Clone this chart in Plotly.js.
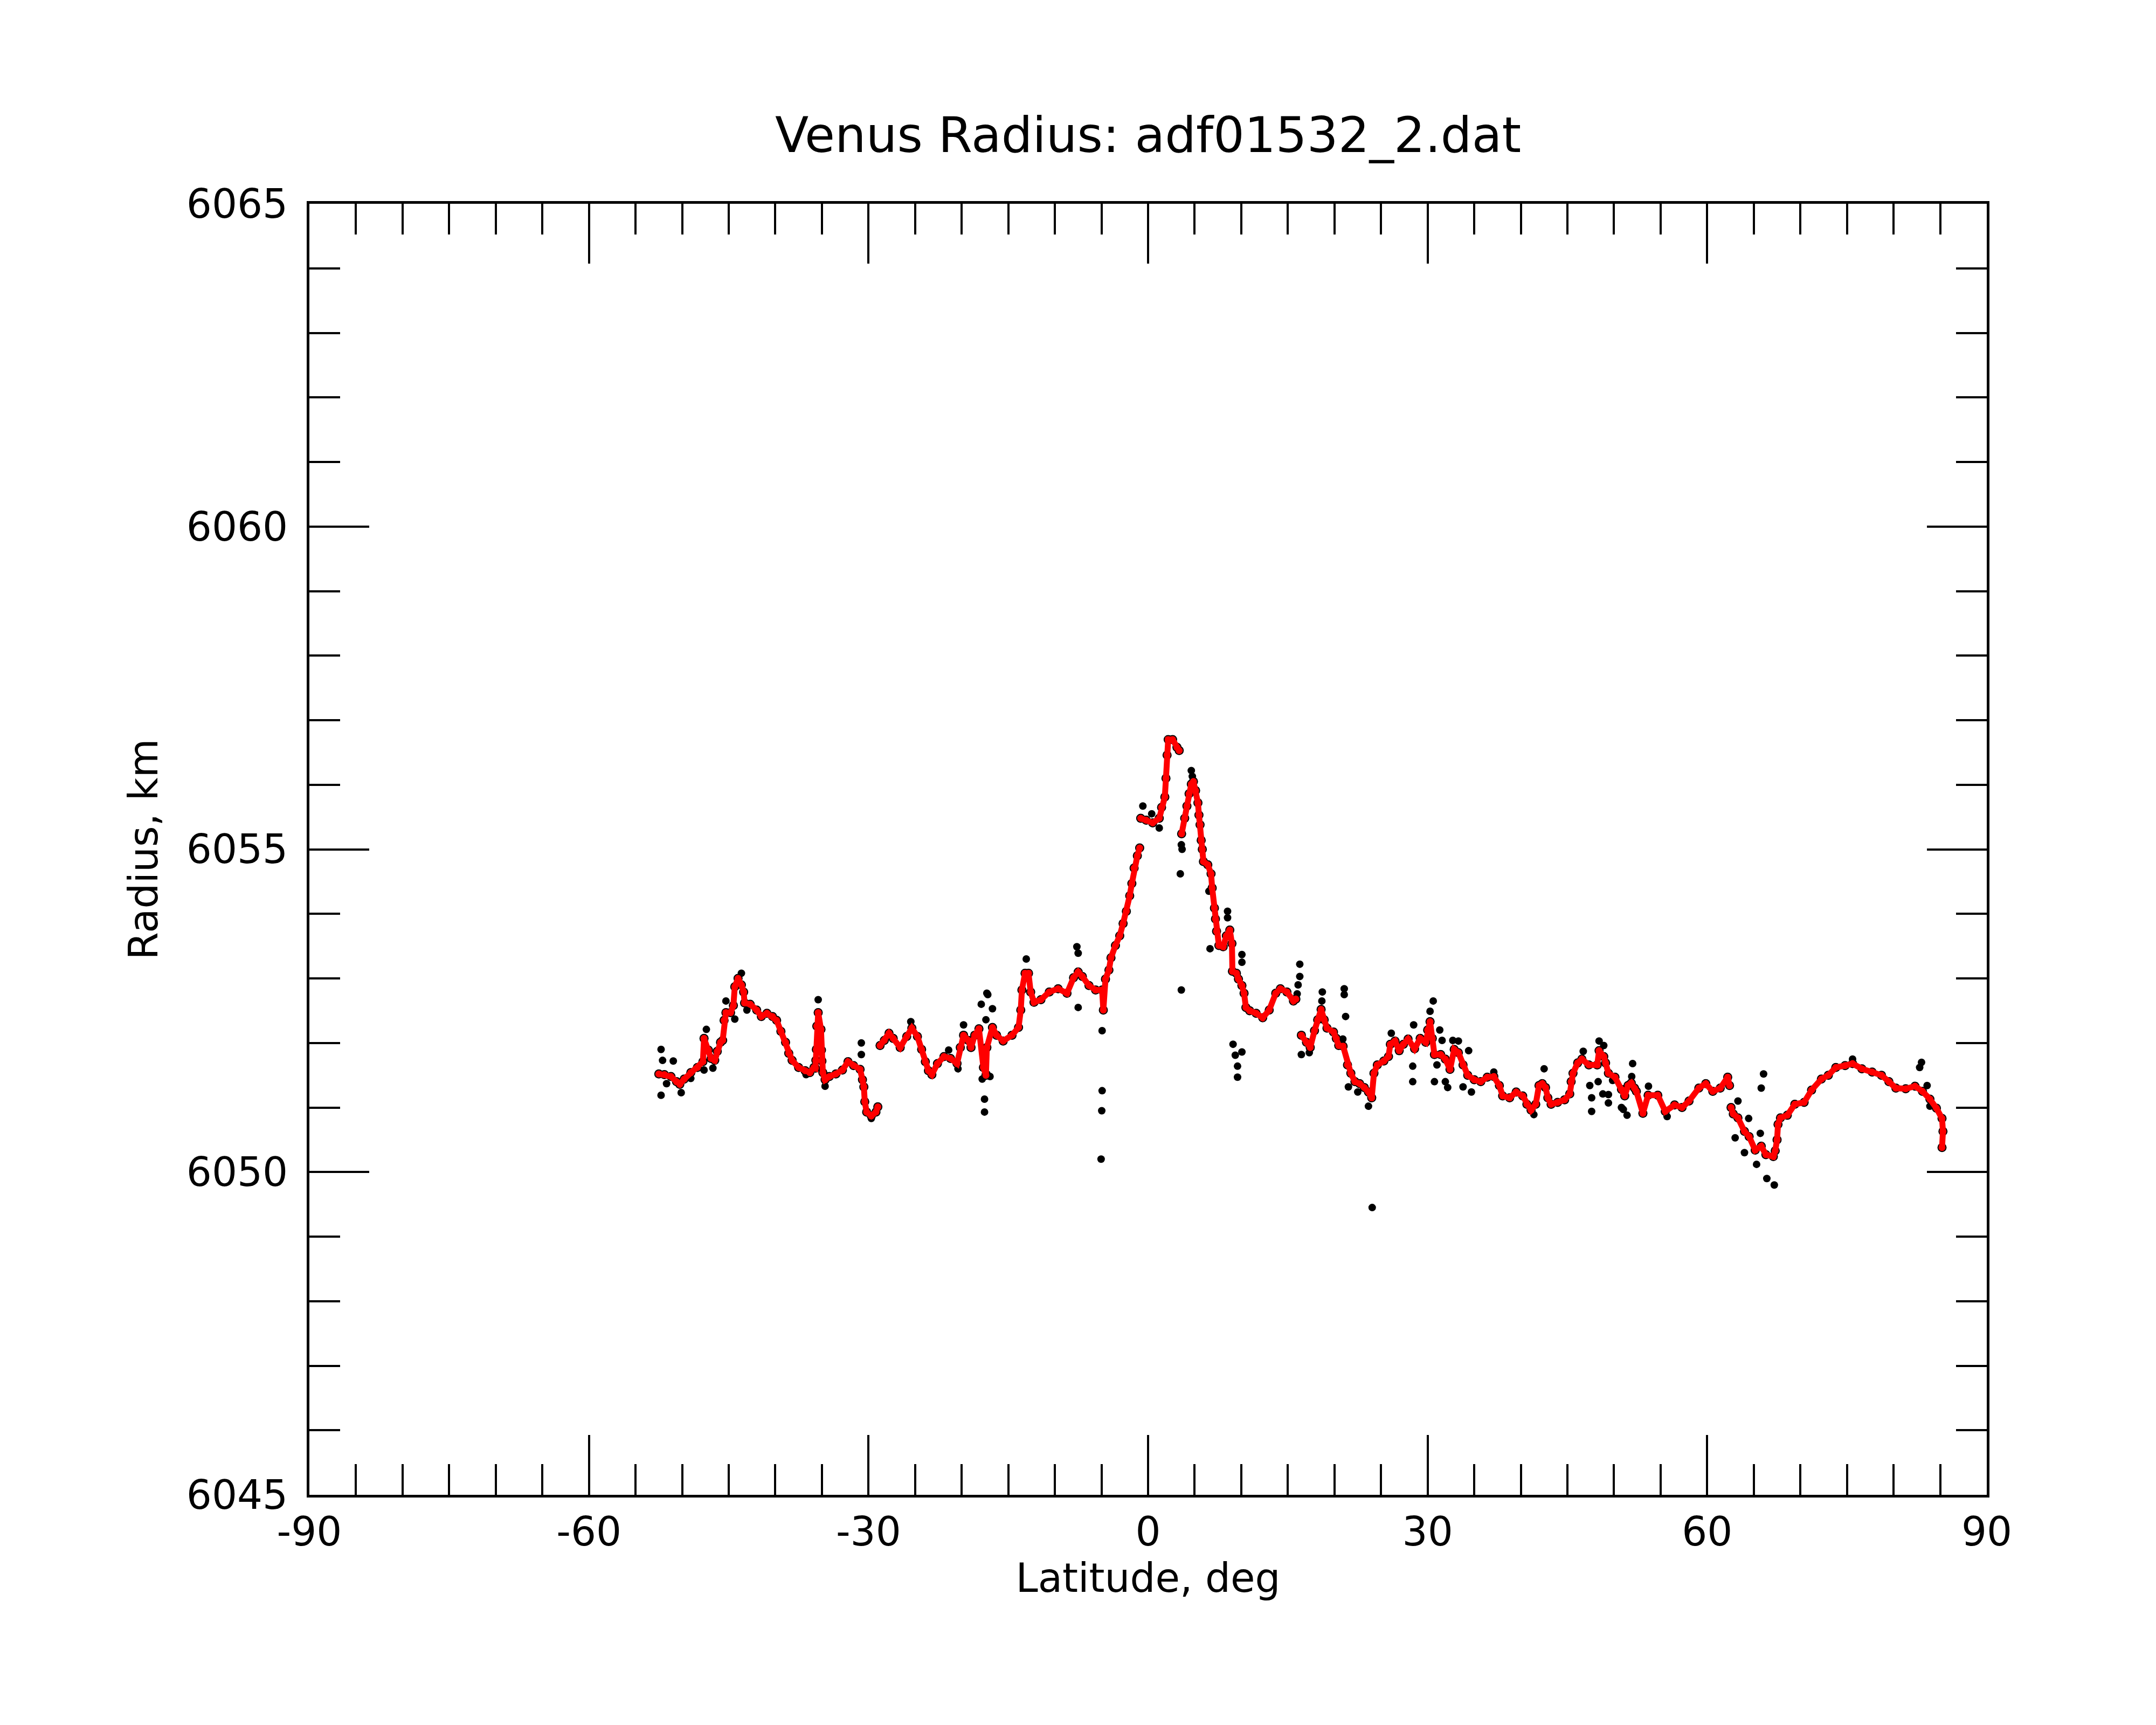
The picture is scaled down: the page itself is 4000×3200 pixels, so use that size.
<!DOCTYPE html>
<html>
<head>
<meta charset="utf-8">
<script src="https://cdn.plot.ly/plotly-3.0.1.min.js"></script>
<style>
  body { margin: 0; background: #fff; }
  #graphDiv { width: 4000px; height: 3200px; }
</style>
</head>
<body>
<div id="graphDiv"></div>
<script>
'use strict';

// smoothed radius (red), null = gap in the curve
const smoothLat = [
  -52.5, -51.9, -51.2, -50.6, -50.25, -49.78, -49.07, -48.36, -47.77, -47.65, -47.18, -46.9, -46.5, -46.23,
  -45.88, -45.65, -45.5, -45.3, -44.8, -44.5, -44.35, -44.0, -43.64, -43.4, -43.3, -42.7, -42.0, -41.5,
  -40.9, -40.3, -39.86, -39.4, -38.9, -38.56, -38.2, -37.5, -36.8, -36.3, -35.85, -35.7, -35.65, -35.6,
  -35.55, -35.4, -35.1, -35.05, -35.0, -34.9, -34.66, -34.2, -33.5, -32.8, -32.2, -31.6, -30.9, -30.65,
  -30.5, -30.4, -30.2, -29.7, -29.2, -29.0, null,
  -28.76, -28.3, -27.8, -27.35, -26.6, -25.9, -25.35, -24.75, -24.3, -23.9, -23.57, -23.2, -22.6, -21.9,
  -21.2, -20.5, -20.15, -19.8, -19.3, -19.0, -18.6, -18.15, -17.67, -17.4, -17.3, -16.7, -16.26, -15.55,
  -14.6, -13.9, -13.66, -13.54, -13.2, -12.83, -12.6, -12.24, -11.5, -10.6, -9.65, -8.7, -8.0, -7.5,
  -7.05, -6.34, -5.63, -4.93, -4.8, -4.57, -4.2, -3.98, -3.5, -3.04, -2.68, -2.33, -1.97, -1.74,
  -1.5, -1.15, -0.9, null,
  -0.79, -0.2, 0.5, 1.2, 1.45, 1.8, 1.92, 2.04, 2.16, 2.63, 3.1, 3.34, null,
  3.6, 3.93, 4.17, 4.4, 4.64, 4.87, 5.1, 5.35, 5.46, 5.58, 5.7, 5.82, 5.94, 6.41, 6.76, 6.88, 7.12,
  7.23, 7.35, 7.6, 8.06, 8.4, 8.77, 9.0, 9.05, 9.48, 9.7, 10.07, 10.3, 10.5, 10.9, 11.6, 12.3, 13.0,
  13.7, 14.2, 14.9, 15.6, 15.86, null,
  16.45, 17.0, 17.4, 17.86, 18.2, 18.57, 18.9, 19.2, 19.9, 20.2, 20.46, 20.93, 21.4, 21.76, 22.2,
  22.7, 23.2, 23.65, 24.0, 24.24, 24.6, 25.3, 25.8, 26.0, 26.5, 26.95, 27.4, 27.9, 28.6, 29.2, 29.8,
  30.0, 30.26, 30.5, 30.73, 31.4, 31.9, 32.4, 32.85, 33.3, 33.8, 34.3, 35.0, 35.7, 36.4, 37.1, 37.7,
  38.05, 38.8, 39.5, 40.2, 40.65, 41.1, 41.6, 41.95, 42.3, 42.65, 42.9, 43.25, 43.95, 44.7, 45.25,
  45.4, 45.6, 46.1, 46.55, 47.3, 48.2, 48.4, 48.9, 49.1, 49.4, 50.1, 50.8, 51.15, 51.5, 51.85, 52.2,
  52.4, 53.1, 53.66, 54.7, 55.5, 56.5, 57.3, 58.05, 59.1, 59.85, 60.6, 61.4, 62.2, 62.4, null,
  62.56, 62.8, 63.3, 64.0, 64.5, 65.15, 65.8, 66.3, 67.1, 67.3, 67.5, 67.6, 67.86, 68.6, 69.4, 70.4,
  71.2, 72.25, 73.0, 73.8, 74.8, 75.6, 76.6, 77.7, 78.7, 79.5, 80.25, 81.3, 82.3, 83.1, 83.9, 84.6,
  85.2, 85.3, 85.2
];
const smoothRad = [
  6051.52, 6051.51, 6051.48, 6051.40, 6051.36, 6051.44, 6051.54, 6051.62, 6051.71, 6052.07, 6051.89, 6051.76, 6051.73, 6051.87,
  6052.01, 6052.04, 6052.35, 6052.47, 6052.47, 6052.58, 6052.87, 6053.00, 6052.90, 6052.79, 6052.62, 6052.60, 6052.51, 6052.41,
  6052.46, 6052.41, 6052.35, 6052.18, 6052.01, 6051.84, 6051.73, 6051.62, 6051.57, 6051.54, 6051.62, 6051.61, 6051.73, 6051.90,
  6052.26, 6052.47, 6052.21, 6051.89, 6051.72, 6051.54, 6051.43, 6051.48, 6051.52, 6051.58, 6051.71, 6051.65, 6051.59, 6051.43,
  6051.32, 6051.09, 6050.93, 6050.87, 6050.93, 6051.01, null,
  6051.96, 6052.04, 6052.15, 6052.07, 6051.93, 6052.10, 6052.23, 6052.10, 6051.90, 6051.71, 6051.57, 6051.51, 6051.68, 6051.79,
  6051.76, 6051.68, 6051.93, 6052.12, 6052.04, 6051.93, 6052.12, 6052.22, 6051.62, 6051.50, 6051.93, 6052.24, 6052.12, 6052.03,
  6052.12, 6052.24, 6052.51, 6052.82, 6053.08, 6053.08, 6052.79, 6052.63, 6052.67, 6052.79, 6052.84, 6052.77, 6053.01, 6053.10,
  6053.03, 6052.89, 6052.82, 6052.82, 6052.51, 6052.99, 6053.13, 6053.32, 6053.51, 6053.66, 6053.85, 6054.04, 6054.28, 6054.47,
  6054.71, 6054.90, 6055.02, null,
  6055.48, 6055.45, 6055.41, 6055.48, 6055.65, 6055.81, 6056.10, 6056.46, 6056.70, 6056.70, 6056.58, 6056.53, null,
  6055.24, 6055.48, 6055.67, 6055.86, 6056.01, 6056.05, 6055.91, 6055.72, 6055.53, 6055.38, 6055.14, 6055.00, 6054.81, 6054.76, 6054.62, 6054.40, 6054.09,
  6053.92, 6053.73, 6053.51, 6053.49, 6053.66, 6053.75, 6053.54, 6053.11, 6053.08, 6052.99, 6052.89, 6052.77, 6052.55, 6052.50, 6052.46, 6052.39, 6052.51,
  6052.77, 6052.84, 6052.79, 6052.65, 6052.68, null,
  6052.12, 6052.01, 6051.93, 6052.19, 6052.36, 6052.52, 6052.36, 6052.23, 6052.17, 6052.07, 6051.96, 6051.95, 6051.66, 6051.53, 6051.40,
  6051.37, 6051.31, 6051.24, 6051.15, 6051.53, 6051.66, 6051.72, 6051.79, 6051.98, 6052.03, 6051.88, 6051.98, 6052.06, 6051.91, 6052.07, 6052.01,
  6052.20, 6052.33, 6052.07, 6051.82, 6051.82, 6051.75, 6051.59, 6051.90, 6051.85, 6051.66, 6051.50, 6051.43, 6051.40, 6051.47, 6051.48, 6051.34,
  6051.18, 6051.15, 6051.24, 6051.18, 6051.05, 6050.96, 6051.05, 6051.34, 6051.37, 6051.31, 6051.15, 6051.05, 6051.08, 6051.12, 6051.21,
  6051.40, 6051.53, 6051.69, 6051.75, 6051.66, 6051.66, 6051.88, 6051.79, 6051.69, 6051.53, 6051.47, 6051.28, 6051.18, 6051.34, 6051.38, 6051.30,
  6051.25, 6050.91, 6051.19, 6051.19, 6050.94, 6051.04, 6051.00, 6051.10, 6051.30, 6051.37, 6051.25, 6051.30, 6051.47, 6051.34, null,
  6051.00, 6050.90, 6050.84, 6050.63, 6050.55, 6050.34, 6050.40, 6050.27, 6050.24, 6050.33, 6050.50, 6050.74, 6050.84, 6050.88, 6051.05, 6051.08,
  6051.27, 6051.44, 6051.50, 6051.62, 6051.65, 6051.68, 6051.60, 6051.55, 6051.50, 6051.40, 6051.30, 6051.29, 6051.33, 6051.25, 6051.13, 6050.99,
  6050.83, 6050.63, 6050.38
];

// raw points (black) standing off the smoothed curve
const rawLat = [
  -52.26, -52.26, -52.1, -51.67, -50.95, -50.1, -49.07, -47.65, -47.4, -46.7, -45.3, -44.35, -43.64, -43.05,
  -36.7, -35.4, -34.66, -30.77, -30.77, -29.7, -25.46, -21.4, -20.4, -19.8, -17.9, -17.8, -17.55, -17.55,
  -17.4, -17.3, -17.3, -17.2, -16.96, -16.7, -13.07, -7.64, -7.5, -7.5, -5.04, -4.97, -4.93, -4.93,
  -0.56, 0.39, 1.2, 3.46, 3.57, 3.57, 3.65, 4.64, 4.75, 6.53, 6.65, 8.53, 8.53, 9.12, 9.36, 9.6, 9.6,
  10.07, 10.07, 10.07, 16.0, 16.1, 16.28, 16.28, 16.45, 17.3, 18.65, 18.7, 20.9, 21.05, 21.05, 21.2,
  21.5, 22.5, 23.65, 24.05, 26.1, 28.4, 28.4, 28.5, 30.26, 30.6, 30.73, 31.0, 31.3, 31.55, 31.9, 32.15,
  32.7, 33.3, 33.8, 34.4, 34.7, 37.1, 41.4, 42.5, 46.7, 47.4, 47.6, 47.6, 48.3, 48.4, 48.8, 48.9, 49.4,
  49.4, 49.85, 50.8, 51.0, 51.4, 51.9, 52.0, 53.7, 55.7, 63.0, 63.3, 64.0, 64.45, 65.3, 65.7, 65.8,
  66.05, 66.4, 67.2, 75.6, 82.8, 83.0, 83.6, 83.9
];
const rawRad = [
  6051.90, 6051.19, 6051.73, 6051.37, 6051.72, 6051.23, 6051.45, 6051.58, 6052.21, 6051.61, 6052.65, 6052.37, 6053.08, 6052.51,
  6051.51, 6052.67, 6051.33, 6052.00, 6051.82, 6050.83, 6052.33, 6051.89, 6051.60, 6052.28, 6052.60, 6051.44, 6051.13, 6050.93,
  6052.36, 6051.52, 6052.77, 6052.75, 6051.48, 6052.53, 6053.30, 6053.49, 6053.39, 6052.55, 6050.20, 6050.95, 6052.19, 6051.26,
  6055.67, 6055.55, 6055.33, 6054.62, 6055.07, 6052.82, 6055.00, 6056.22, 6056.13, 6054.35, 6053.46, 6054.04, 6053.94, 6051.98, 6051.81, 6051.64, 6051.47,
  6053.37, 6053.25, 6051.86, 6052.76, 6052.90, 6053.22, 6053.03, 6051.82, 6051.85, 6052.65, 6052.79, 6052.06, 6052.84, 6052.75, 6052.41,
  6051.32, 6051.24, 6051.02, 6049.45, 6052.15, 6051.64, 6051.40, 6052.28, 6052.49, 6052.65, 6051.40, 6051.66, 6052.20, 6052.04, 6051.40, 6051.31,
  6052.04, 6052.03, 6051.32, 6051.88, 6051.24, 6051.55, 6050.89, 6051.60, 6051.87, 6051.34, 6051.15, 6050.94, 6051.40, 6052.03, 6051.21, 6051.96, 6051.20,
  6051.07, 6051.42, 6051.00, 6050.97, 6050.88, 6051.48, 6051.68, 6051.33, 6050.86, 6050.53, 6051.10, 6050.30, 6050.83, 6050.12, 6050.60, 6051.30,
  6051.52, 6049.90, 6049.80, 6051.75, 6051.62, 6051.70, 6051.34, 6051.02
];

const latTicks = [-90, -60, -30, 0, 30, 60, 90];
const radTicks = [6045, 6050, 6055, 6060, 6065];

const font = 'DejaVu Sans, Verdana, sans-serif';

function axisStyle(range, ticks, minorStep) {
  return {
    range: range,
    tickmode: 'array',
    tickvals: ticks,
    ticktext: ticks.map(String),
    ticks: 'inside',
    ticklen: 111,
    tickwidth: 4,
    tickcolor: '#000',
    minor: { dtick: minorStep, tick0: range[0], ticks: 'inside', ticklen: 57, tickwidth: 4, tickcolor: '#000', showgrid: false },
    mirror: 'allticks',
    showline: true,
    linewidth: 5,
    linecolor: '#000',
    showgrid: false,
    zeroline: false,
    tickfont: { family: font, size: 74, color: '#000' },
    fixedrange: true
  };
}

let xaxis = axisStyle([-90, 90], latTicks, 5);
xaxis.title = { text: 'Latitude, deg', font: { family: font, size: 74, color: '#000' }, standoff: 0 };
let yaxis = axisStyle([6045, 6065], radTicks, 1);
yaxis.title = { text: 'Radius, km', font: { family: font, size: 74, color: '#000' }, standoff: 30 };
yaxis.ticklabelstandoff = 20;

let traces = [
  { type: 'scatter', mode: 'markers', x: smoothLat, y: smoothRad, marker: { color: '#000', size: 17 }, hoverinfo: 'skip' },
  { type: 'scatter', mode: 'markers', x: rawLat, y: rawRad, marker: { color: '#000', size: 14 } },
  { type: 'scatter', mode: 'lines+markers', x: smoothLat, y: smoothRad, connectgaps: false,
    line: { color: '#ff0000', width: 11 }, marker: { color: '#ff0000', size: 13 } }
];

let layout = {
  width: 4000,
  height: 3200,
  margin: { l: 574, r: 314, t: 378, b: 427 },
  paper_bgcolor: '#fff',
  plot_bgcolor: '#fff',
  showlegend: false,
  title: {
    text: 'Venus Radius: adf01532_2.dat',
    font: { family: font, size: 91, color: '#000' },
    x: 0.5, xref: 'paper', xanchor: 'center',
    y: 0.912, yref: 'container', yanchor: 'bottom'
  },
  xaxis: xaxis,
  yaxis: yaxis
};

Plotly.newPlot(graphDiv, traces, layout, { displayModeBar: false, staticPlot: true });
</script>
</body>
</html>
